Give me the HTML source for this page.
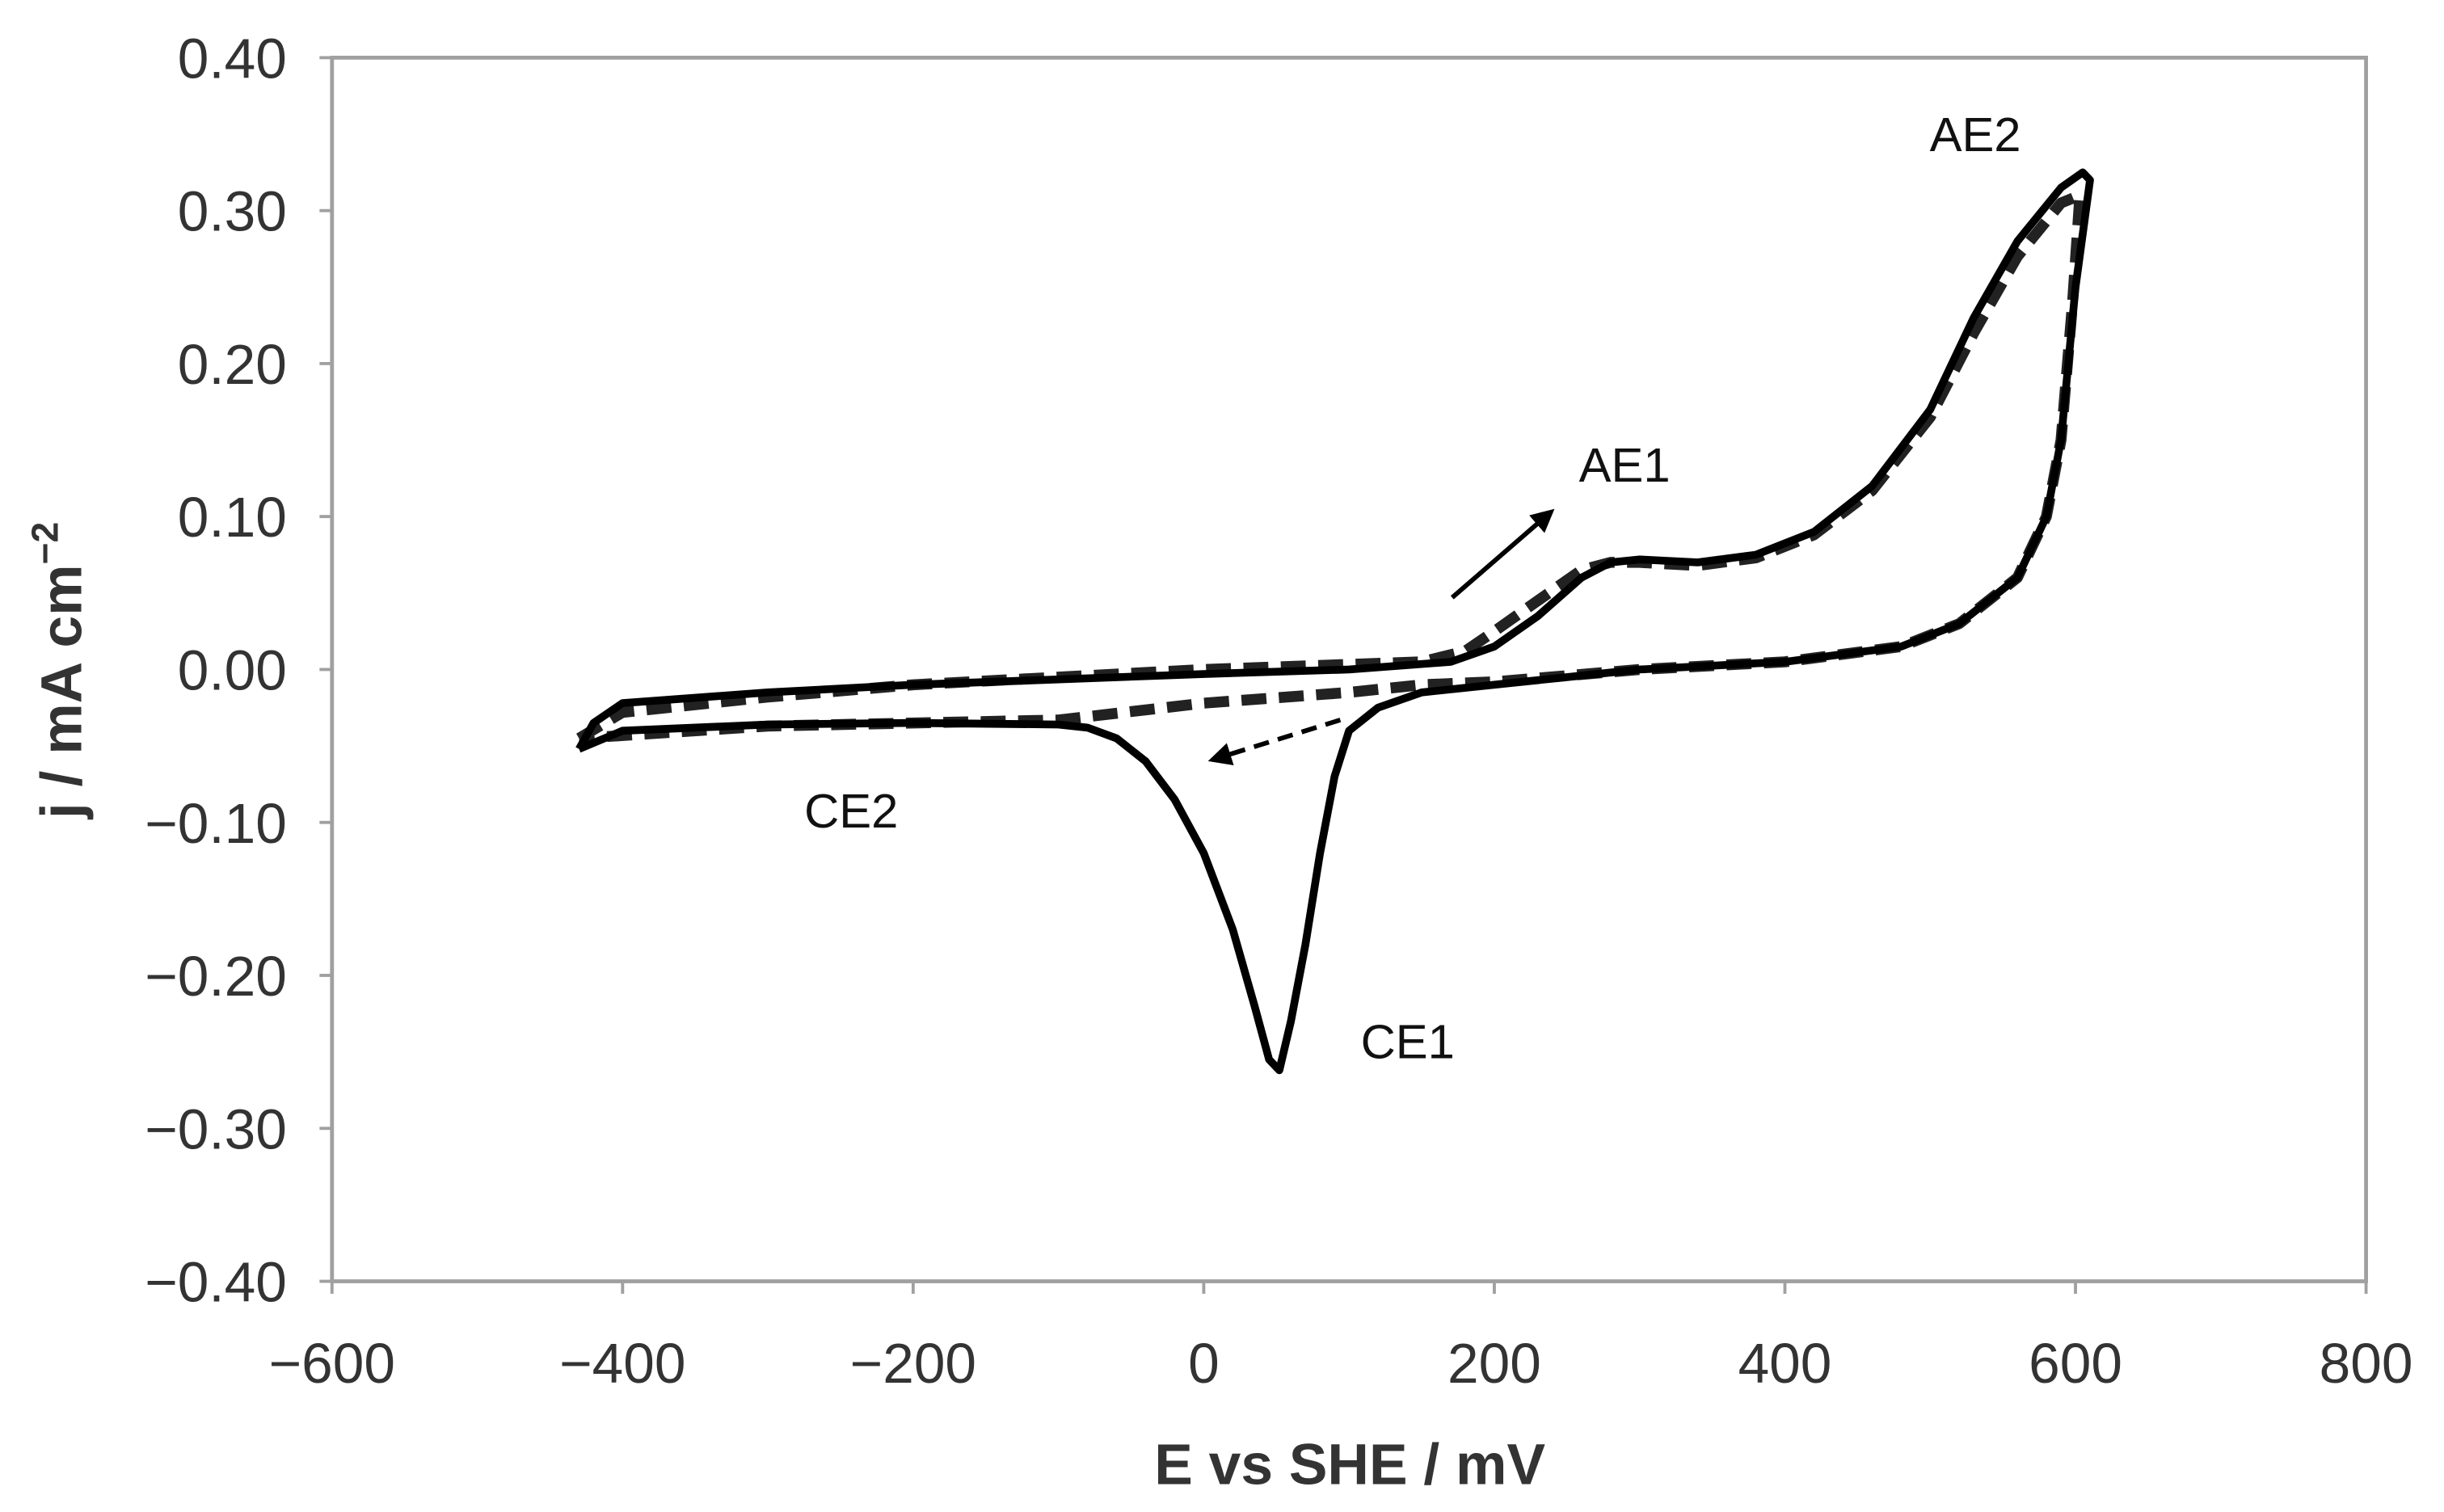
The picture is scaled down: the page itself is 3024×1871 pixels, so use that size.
<!DOCTYPE html>
<html><head><meta charset="utf-8"><style>
html,body{margin:0;padding:0;background:#fff;}
svg{display:block;}
</style></head><body>
<svg width="3024" height="1871" viewBox="0 0 1568 970" preserveAspectRatio="none" xmlns="http://www.w3.org/2000/svg">
<defs>
<marker id="ah" viewBox="0 0 10 10" refX="8" refY="5" markerWidth="5" markerHeight="5" orient="auto"><path d="M0,0 L10,5 L0,10 z" fill="#000"/></marker>
</defs>
<rect x="213" y="37" width="1305" height="785" fill="none" stroke="#a0a0a0" stroke-width="2.5"/>
<g id="axes"></g>
<g id="series"></g>
<g id="ann"></g>
<text x="866" y="952" text-anchor="middle" font-family="Liberation Sans, sans-serif" font-weight="bold" font-size="37" fill="#333">E vs SHE / mV</text>
<text transform="translate(52,430) rotate(-90)" text-anchor="middle" font-family="Liberation Sans, sans-serif" font-weight="bold" font-size="37" fill="#333">j / mA cm<tspan font-size="24" dy="-15">−2</tspan></text>
<text x="1238" y="97" font-family="Liberation Sans, sans-serif" font-size="31" fill="#111">AE2</text>
<text x="1013" y="309" font-family="Liberation Sans, sans-serif" font-size="31" fill="#111">AE1</text>
<text x="516" y="531" font-family="Liberation Sans, sans-serif" font-size="31" fill="#111">CE2</text>
<text x="873" y="679" font-family="Liberation Sans, sans-serif" font-size="31" fill="#111">CE1</text>
</svg>
<script>
const xTicks=[-600,-400,-200,0,200,400,600,800];
const yTicks=[0.40,0.30,0.20,0.10,0.00,-0.10,-0.20,-0.30,-0.40];
const solidE=[-430,-420,-400,-300,-200,0,100,170,200,230,260,280,300,340,380,420,460,500,530,560,590,605,610,600,590,580,560,520,480,400,300,250,200,150,120,100,90,80,70,60,52,45,35,20,0,-20,-40,-60,-80,-100,-200,-300,-400,-430];
const solidJ=[-0.052,-0.035,-0.022,-0.015,-0.01,-0.003,0.0,0.005,0.015,0.035,0.06,0.07,0.072,0.07,0.075,0.09,0.12,0.17,0.23,0.28,0.315,0.325,0.32,0.25,0.15,0.1,0.06,0.03,0.015,0.005,0.0,-0.005,-0.01,-0.015,-0.025,-0.04,-0.07,-0.12,-0.18,-0.23,-0.262,-0.255,-0.22,-0.17,-0.12,-0.085,-0.06,-0.045,-0.038,-0.036,-0.035,-0.036,-0.04,-0.052];
const dashE=[-430,-400,-300,-200,0,150,180,200,230,260,280,300,340,380,420,460,500,530,560,590,603,598,590,580,560,520,480,400,300,200,150,100,0,-100,-300,-430];
const dashJ=[-0.045,-0.028,-0.018,-0.01,0.0,0.005,0.012,0.025,0.045,0.065,0.07,0.07,0.068,0.073,0.088,0.117,0.165,0.22,0.27,0.305,0.31,0.24,0.15,0.1,0.06,0.03,0.015,0.005,0.0,-0.008,-0.01,-0.015,-0.022,-0.033,-0.037,-0.045];
const arrowSolid=[[171,0.047],[239,0.103]];
const arrowDash=[[94,-0.033],[6,-0.059]];
const X=v=>213+(v+600)*1305/1400;
const Y=v=>429.5-v*981.25;
const NS="http://www.w3.org/2000/svg";
function mk(t,a,p){const e=document.createElementNS(NS,t);for(const k in a)e.setAttribute(k,a[k]);p.appendChild(e);return e;}
const ax=document.getElementById('axes');
xTicks.forEach(v=>{
 const l=mk('line',{x1:X(v),x2:X(v),y1:822,y2:830,stroke:'#a0a0a0','stroke-width':2},ax);
 
 
 const t=mk('text',{x:X(v),y:887,'text-anchor':'middle','font-family':'Liberation Sans, sans-serif','font-size':36,fill:'#333'},ax);
 
 
 t.textContent=v<0?'−'+(-v):String(v);
});
yTicks.forEach(v=>{
 const l=mk('line',{x1:205,x2:213,y1:Y(v),y2:Y(v),stroke:'#a0a0a0','stroke-width':2},ax);
 
 
 const t=mk('text',{x:184,y:Y(v)+13,'text-anchor':'end','font-family':'Liberation Sans, sans-serif','font-size':36,fill:'#333'},ax);
 
 
 t.textContent=(v<0?'−':'')+Math.abs(v).toFixed(2);
});
const sg=document.getElementById('series');
function pts(E,J){return E.map((e,i)=>X(e).toFixed(1)+','+Y(J[i]).toFixed(1)).join(' ');}
const d=mk('polyline',{points:pts(dashE,dashJ),fill:'none',stroke:'#222','stroke-width':7,'stroke-dasharray':'16 8','stroke-linejoin':'round'},sg);


const s=mk('polyline',{points:pts(solidE,solidJ),fill:'none',stroke:'#000','stroke-width':5,'stroke-linejoin':'round'},sg);


const an=document.getElementById('ann');
const a1=mk('line',{x1:X(arrowSolid[0][0]),y1:Y(arrowSolid[0][1]),x2:X(arrowSolid[1][0]),y2:Y(arrowSolid[1][1]),stroke:'#000','stroke-width':3,'marker-end':'url(#ah)'},an);


const a2=mk('line',{x1:X(arrowDash[0][0]),y1:Y(arrowDash[0][1]),x2:X(arrowDash[1][0]),y2:Y(arrowDash[1][1]),stroke:'#000','stroke-width':3,'stroke-dasharray':'10 6','marker-end':'url(#ah)'},an);


</script>
</body></html>
